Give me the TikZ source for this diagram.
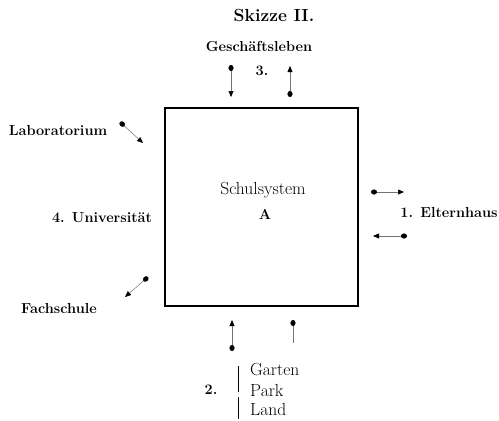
\documentclass[tikz,border=0pt]{standalone}
\usepackage{tikz}
\usetikzlibrary{arrows.meta}
\tikzstyle{es} = [{Circle[length=6pt,width=5pt,color=black]}-{Triangle[length=6pt,width=5pt,color=black]}, draw=black!55, line width=0.5pt]
\tikzstyle{eb} = [{Circle[length=6pt,width=5pt,color=black]}-, draw=black!55, line width=0.5pt]
\tikzstyle{lbl} = [font=\fontsize{14.5}{17}\selectfont\bfseries, inner sep=0pt]
\tikzstyle{txt} = [font=\fontsize{17.5}{20}\selectfont, inner sep=0pt]

\begin{document}
\begin{tikzpicture}[yscale=-1]
			\useasboundingbox (0pt,0pt) rectangle (499pt,421pt);
			\node[draw, line width=1.5pt, minimum width=193pt, minimum height=198pt, inner sep=0pt] (box) at (261.5pt,207pt) {};
			\node[lbl, font=\fontsize{17.5}{20}\selectfont\bfseries] (titel) at (274pt,15pt) {Skizze II.};
			\node[lbl] (geschaeft) at (259pt,47pt) {Geschäftsleben};
			\node[lbl] (drei) at (262pt,71pt) {3.};
			\node[lbl] (labor) at (58pt,131pt) {Laboratorium};
			\node[lbl] (uni) at (102pt,218pt) {4. Universität};
			\node[lbl] (fach) at (59pt,309pt) {Fachschule};
			\node[lbl] (eltern) at (449pt,213pt) {1. Elternhaus};
			\node[txt] (schule) at (263pt,190pt) {Schulsystem};
			\node[lbl] (a) at (265pt,214pt) {A};
			\node[lbl] (zwei) at (211pt,390pt) {2.};
			\node[txt, anchor=west] (garten) at (250pt,370pt) {Garten};
			\node[txt, anchor=west] (park) at (250pt,390pt) {Park};
			\node[txt, anchor=west] (land) at (250pt,409pt) {Land};
			\coordinate (k1) at (238pt,366pt);
			\coordinate (k2) at (238pt,392pt);
			\coordinate (k3) at (238pt,397pt);
			\coordinate (k4) at (238pt,419pt);
			\draw[line width=0.9pt] (k1) -- (k2);
			\draw[line width=0.9pt] (k3) -- (k4);
			\coordinate (o1) at (231pt,65pt);
			\coordinate (o2) at (231pt,97pt);
			\coordinate (o3) at (290pt,97pt);
			\coordinate (o4) at (290pt,66pt);
			\draw[es] (o1) -- (o2);
			\draw[es] (o3) -- (o4);
			\coordinate (r1) at (371pt,192pt);
			\coordinate (r2) at (404pt,192pt);
			\coordinate (r3) at (407pt,236pt);
			\coordinate (r4) at (373pt,236pt);
			\draw[es] (r1) -- (r2);
			\draw[es] (r3) -- (r4);
			\coordinate (l1) at (120pt,122pt);
			\coordinate (l2) at (143pt,143pt);
			\coordinate (l3) at (148pt,277pt);
			\coordinate (l4) at (125pt,297pt);
			\draw[es] (l1) -- (l2);
			\draw[es] (l3) -- (l4);
			\coordinate (u1) at (232pt,351pt);
			\coordinate (u2) at (232pt,320pt);
			\coordinate (u3) at (293pt,320pt);
			\coordinate (u4) at (293pt,343pt);
			\draw[es] (u1) -- (u2);
			\draw[eb] (u3) -- (u4);
		\end{tikzpicture}
\end{document}
